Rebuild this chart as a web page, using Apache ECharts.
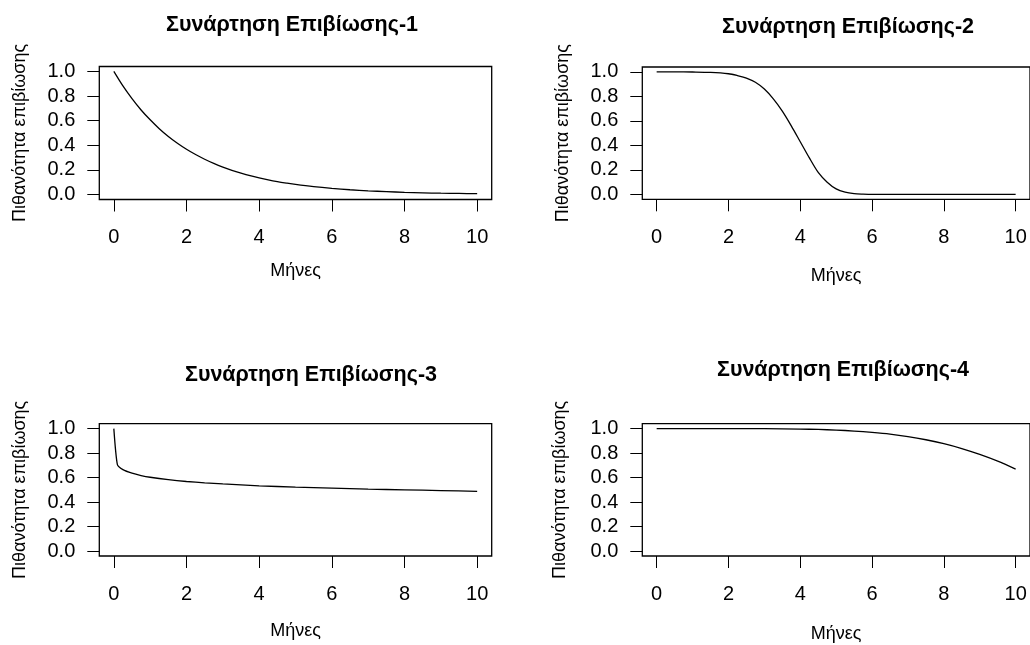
<!DOCTYPE html>
<html>
<head>
<meta charset="utf-8">
<script src="https://cdn.jsdelivr.net/npm/echarts@6/dist/echarts.min.js"></script>
<style>html,body{margin:0;padding:0;background:#fff}#c{width:1030px;height:645px}</style>
</head>
<body>
<div id="c"></div>
<script>
// ---- data ----
const titles = ['Συνάρτηση Επιβίωσης-1','Συνάρτηση Επιβίωσης-2','Συνάρτηση Επιβίωσης-3','Συνάρτηση Επιβίωσης-4'];
const xAxisTitle = 'Μήνες';
const yAxisTitle = 'Πιθανότητα επιβίωσης';
const xTickValues = [0, 2, 4, 6, 8, 10];
const yTickValues = [0, 0.2, 0.4, 0.6, 0.8, 1.0];

const t1 = [0,0.25,0.5,0.75,1,1.25,1.5,1.75,2,2.25,2.5,2.75,3,3.25,3.5,3.75,4,4.25,4.5,4.75,5,5.5,6,6.5,7,7.5,8,8.5,9,9.5,10];
const s1 = [1.000,0.882,0.779,0.687,0.607,0.535,0.472,0.417,0.368,0.325,0.287,0.253,0.223,0.197,0.174,0.153,0.135,0.119,0.105,0.093,0.082,0.064,0.050,0.039,0.030,0.024,0.018,0.014,0.011,0.009,0.007];

const t2 = [0,0.5,1,1.5,2,2.25,2.5,2.75,3,3.25,3.5,3.75,4,4.25,4.5,4.75,5,5.25,5.5,5.75,6,7,8,9,10];
const s2 = [1.000,1.000,0.999,0.996,0.985,0.970,0.950,0.915,0.860,0.780,0.680,0.560,0.430,0.300,0.180,0.100,0.045,0.018,0.006,0.002,0.000,0.000,0.000,0.000,0.000];

const t3 = [0,0.1,0.25,0.5,0.75,1,1.5,2,2.5,3,4,5,6,7,8,9,10];
const s3 = [1.000,0.703,0.665,0.636,0.617,0.603,0.583,0.568,0.557,0.548,0.533,0.522,0.514,0.506,0.500,0.494,0.488];

const t4 = [0,1,2,3,4,4.5,5,5.5,6,6.5,7,7.5,8,8.5,9,9.5,10];
const s4 = [1.000,1.000,1.000,0.999,0.996,0.993,0.988,0.980,0.969,0.955,0.935,0.909,0.877,0.837,0.789,0.734,0.669];

const ts = [t1, t2, t3, t4];
const ss = [s1, s2, s3, s4];

// ---- layout (pixels) ----
const boxes = [
  {left: 99.3,  top: 66.5,  w: 392.4, h: 133},
  {left: 642.3, top: 67,    w: 392.4, h: 132.3},
  {left: 99.3,  top: 423.7, w: 392.4, h: 132.3},
  {left: 642.3, top: 423.7, w: 392.4, h: 132.3}
];
const titlePos = [
  {x: 292, y: 14}, {x: 848, y: 16}, {x: 311, y: 364}, {x: 843, y: 359}
];
const xNameGap = [63, 68, 66, 69];
const yNameGap = [70, 70, 70, 73];
const smoothness = [0.3, 0.3, 0.2, 0.3];

const FONT = 'Liberation Sans, Arial, sans-serif';

const grids = [], xAxes = [], yAxes = [], series = [], title = [];
boxes.forEach((b, i) => {
  grids.push({left: b.left, top: b.top, width: b.w, height: b.h, show: true,
    borderColor: '#000', borderWidth: 1.3, backgroundColor: 'transparent', containLabel: false});
  xAxes.push({gridIndex: i, type: 'value', min: -0.4, max: 10.4, position: 'bottom',
    axisLine: {show: false, onZero: false}, splitLine: {show: false},
    axisTick: {show: true, inside: false, length: 12, customValues: xTickValues, lineStyle: {color: '#000', width: 1}},
    axisLabel: {show: true, margin: 28, color: '#000', fontSize: 20, fontFamily: FONT, customValues: xTickValues,
      formatter: v => String(v)},
    name: xAxisTitle, nameLocation: 'middle', nameGap: xNameGap[i],
    nameTextStyle: {color: '#000', fontSize: 18, fontFamily: FONT}});
  yAxes.push({gridIndex: i, type: 'value', min: -0.04, max: 1.04, position: 'left',
    axisLine: {show: false, onZero: false}, splitLine: {show: false},
    axisTick: {show: true, inside: false, length: 12, customValues: yTickValues, lineStyle: {color: '#000', width: 1}},
    axisLabel: {show: true, margin: 24, color: '#000', fontSize: 20, fontFamily: FONT, customValues: yTickValues,
      formatter: v => Number(v).toFixed(1)},
    name: yAxisTitle, nameLocation: 'middle', nameGap: yNameGap[i], nameRotate: 90,
    nameTextStyle: {color: '#000', fontSize: 18, fontFamily: FONT}});
  series.push({type: 'line', xAxisIndex: i, yAxisIndex: i, showSymbol: false, clip: false,
    smooth: smoothness[i], lineStyle: {color: '#000', width: 1.3},
    data: ts[i].map((t, k) => [t, ss[i][k]])});
  title.push({text: titles[i], left: titlePos[i].x, top: titlePos[i].y, textAlign: 'center', padding: 0,
    textStyle: {color: '#000', fontSize: 21.5, fontWeight: 'bold', fontFamily: FONT}});
});

const chart = echarts.init(document.getElementById('c'), null, {renderer: 'canvas'});
chart.setOption({animation: false, backgroundColor: '#fff', title, grid: grids, xAxis: xAxes, yAxis: yAxes, series});
</script>
</body>
</html>
